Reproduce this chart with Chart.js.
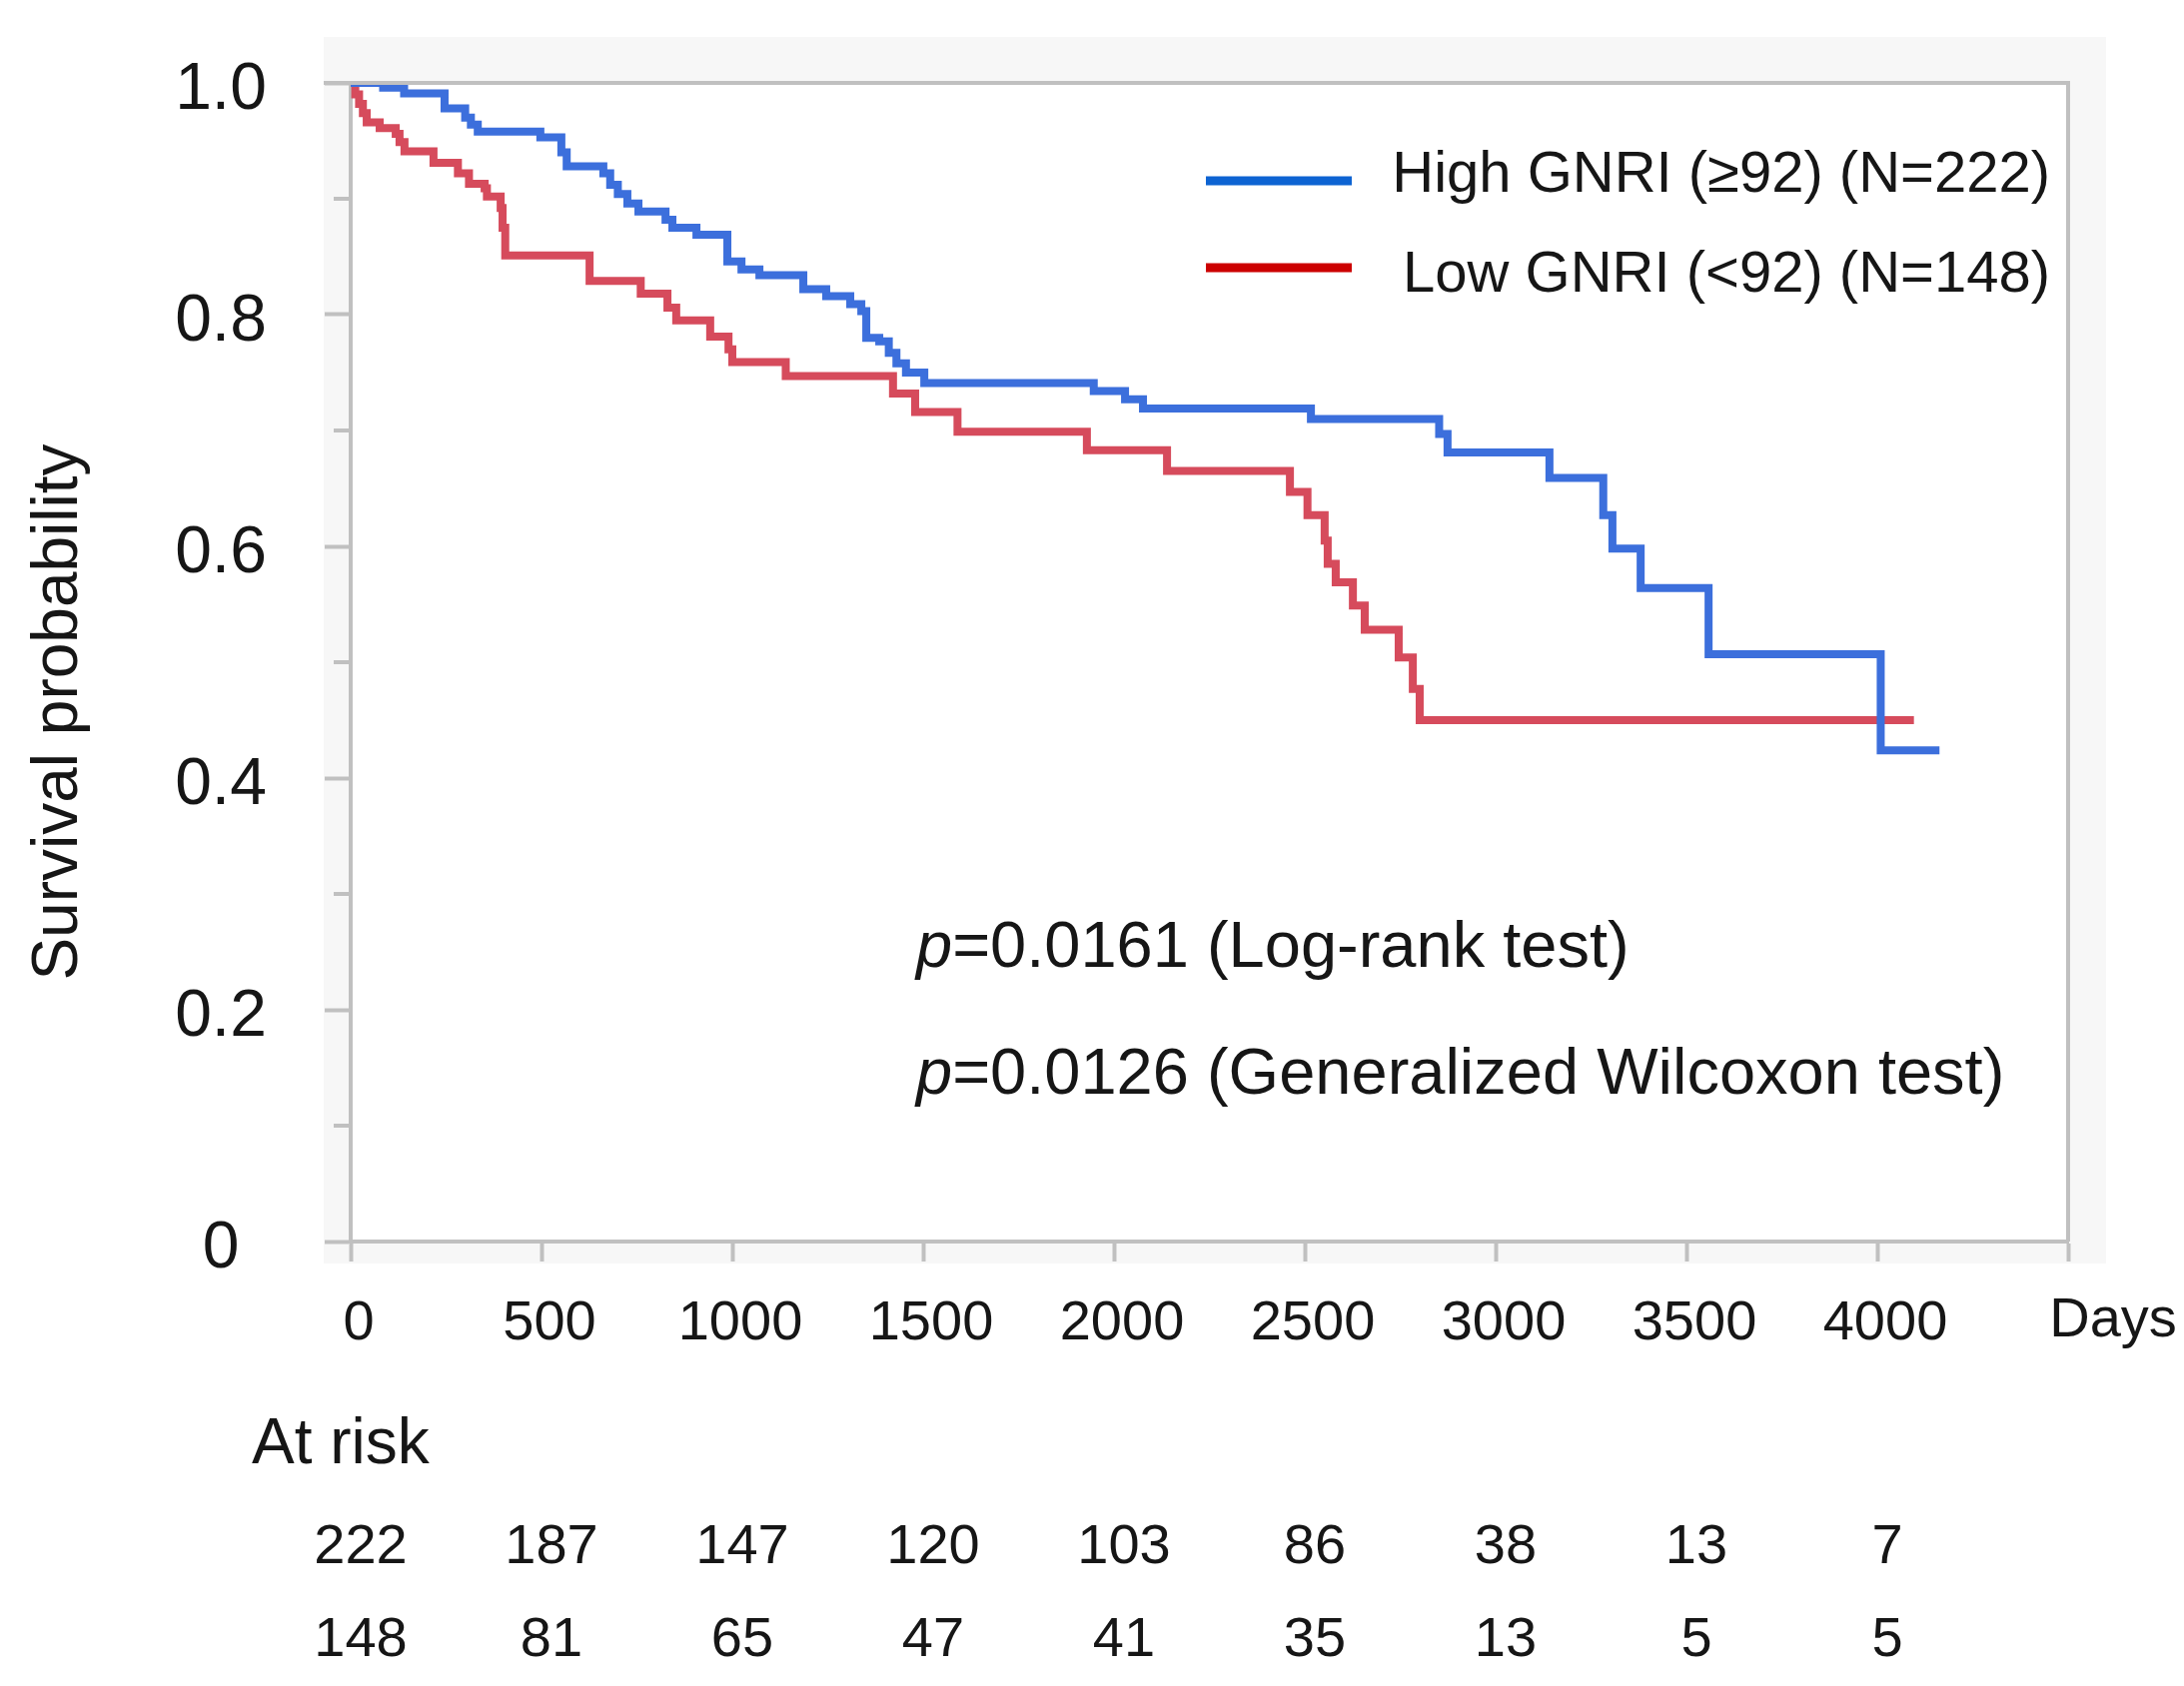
<!DOCTYPE html>
<html>
<head>
<meta charset="utf-8">
<script src="https://cdn.jsdelivr.net/npm/chart.js@4/dist/chart.umd.min.js"></script>
<style>
  html, body { margin: 0; padding: 0; background: #fff; }
  canvas { display: block; }
</style>
</head>
<body>
<canvas id="km" width="2186" height="1688"></canvas>
<script>
const FONT = '"Liberation Sans", Arial, sans-serif';
const AXIS = '#c0c0c0';
const INK = '#161616';

// Kaplan-Meier steps: [days], [survival]
const highDays = [0, 85, 140, 246, 300, 315, 333, 497, 552, 566, 662, 680, 700, 725, 754, 825, 843, 906, 987,
    1024, 1071, 1186, 1246, 1309, 1338, 1351, 1385, 1410, 1430, 1455, 1503, 1947, 2029, 2076, 2516, 2852, 2874,
    3141, 3282, 3306, 3380, 3558, 4009, 4163];
const highSurv = [1.000, 0.996, 0.991, 0.978, 0.970, 0.964, 0.958, 0.953, 0.940, 0.928, 0.922, 0.912, 0.904, 0.896, 0.889, 0.882, 0.875, 0.869, 0.846,
    0.839, 0.834, 0.822, 0.816, 0.809, 0.803, 0.780, 0.777, 0.767, 0.758, 0.750, 0.741, 0.734, 0.727, 0.719, 0.710, 0.697, 0.681,
    0.659, 0.627, 0.598, 0.564, 0.507, 0.424, 0.424];

const lowDays = [0, 12, 22, 32, 42, 76, 118, 128, 141, 217, 281, 310, 351, 357, 393, 398, 405, 626, 760, 830, 853, 942,
    990, 1000, 1140, 1421, 1479, 1590, 1929, 2139, 2461, 2507, 2552, 2560, 2581, 2626, 2657, 2746, 2783, 2801, 4096];
const lowSurv = [1.000, 0.990, 0.982, 0.974, 0.966, 0.961, 0.956, 0.949, 0.941, 0.931, 0.922, 0.913, 0.909, 0.902, 0.892, 0.875, 0.851, 0.829, 0.818, 0.806, 0.795, 0.781,
    0.770, 0.759, 0.747, 0.732, 0.716, 0.699, 0.683, 0.665, 0.647, 0.627, 0.605, 0.585, 0.569, 0.549, 0.528, 0.504, 0.477, 0.450, 0.450];

// numbers at risk
const riskDays = [0, 500, 1000, 1500, 2000, 2500, 3000, 3500, 4000];
const highRisk = [222, 187, 147, 120, 103, 86, 38, 13, 7];
const lowRisk = [148, 81, 65, 47, 41, 35, 13, 5, 5];

const seriesLabels = ['High GNRI (\u226592) (N=222)', 'Low GNRI (<92) (N=148)'];
const pValues = ['=0.0161 (Log-rank test)', '=0.0126 (Generalized Wilcoxon test)'];

const toPoints = (xs, ys) => xs.map((x, i) => ({ x: x, y: ys[i] }));

// y labels only on every second tick: 0, 0.2 ... 1.0
const yLabel = (v) => {
    const r = Math.round(v * 10);
    if (r % 2) return '';
    return r === 0 ? '0' : (r / 10).toFixed(1);
};

const drawText = (ctx, s, x, y, size, align, italic, baseline) => {
    ctx.font = (italic ? 'italic ' : '') + size + 'px ' + FONT;
    ctx.textAlign = align || 'left';
    ctx.textBaseline = baseline || 'alphabetic';
    ctx.fillStyle = INK;
    ctx.fillText(s, x, y);
    return ctx.measureText(s).width;
};

const hLine = (ctx, x1, x2, y, color, w) => {
    ctx.beginPath();
    ctx.strokeStyle = color;
    ctx.lineWidth = w;
    ctx.moveTo(x1, y);
    ctx.lineTo(x2, y);
    ctx.stroke();
};

const kmDecor = {
    id: 'kmDecor',
    beforeDraw(chart) {
        const { ctx, chartArea: a } = chart;
        ctx.save();
        ctx.fillStyle = '#f7f7f7';
        ctx.fillRect(324, 37, 2108 - 324, 1265 - 37);
        ctx.fillStyle = '#ffffff';
        ctx.fillRect(a.left, a.top, a.right - a.left, a.bottom - a.top);
        ctx.restore();
    },
    afterDraw(chart) {
        const { ctx, chartArea: a, scales } = chart;
        const xs = scales.x, ys = scales.y;
        ctx.save();

        // top and right frame
        hLine(ctx, 324, a.right + 2, a.top, AXIS, 4);
        ctx.beginPath();
        ctx.moveTo(a.right, a.top);
        ctx.lineTo(a.right, a.bottom);
        ctx.stroke();

        // short minor ticks on the y axis
        for (let i = 1; i < 10; i += 2) {
            const y = ys.getPixelForValue(i / 10);
            hLine(ctx, a.left - 17, a.left, y, AXIS, 4);
        }

        // y tick labels, sitting a little below their ticks as in the original
        ys.ticks.forEach((t) => {
            const s = yLabel(t.value);
            if (s) drawText(ctx, s, 221, ys.getPixelForValue(t.value) + 8, 66, 'center', false, 'middle');
        });

        // legend
        ctx.lineCap = 'butt';
        hLine(ctx, 1207, 1353, 181, '#0d63d2', 9);
        hLine(ctx, 1207, 1353, 268, '#cc0000', 9);
        drawText(ctx, seriesLabels[0], 2052, 192, 58, 'right');
        drawText(ctx, seriesLabels[1], 2052, 292, 58, 'right');

        // p values
        [968, 1095].forEach((base, i) => {
            const w = drawText(ctx, 'p', 917, base, 65, 'left', true);
            drawText(ctx, pValues[i], 917 + w, base, 65, 'left');
        });

        // x axis unit
        drawText(ctx, 'Days', 2115, 1338, 56, 'center');

        // y axis title
        ctx.save();
        ctx.translate(77, 713);
        ctx.rotate(-Math.PI / 2);
        drawText(ctx, 'Survival probability', 0, 0, 64, 'center');
        ctx.restore();

        // at risk table
        drawText(ctx, 'At risk', 252, 1465, 64, 'left');
        riskDays.forEach((d, i) => {
            const x = xs.getPixelForValue(d) + 10;
            drawText(ctx, String(highRisk[i]), x, 1565, 56, 'center');
            drawText(ctx, String(lowRisk[i]), x, 1658, 56, 'center');
        });

        ctx.restore();
    }
};

const ctx = document.getElementById('km').getContext('2d');
const chart = new Chart(ctx, {
    type: 'line',
    data: {
        datasets: [{
            label: seriesLabels[0],
            data: toPoints(highDays, highSurv),
            borderColor: '#3c6fdc',
            borderWidth: 8,
            stepped: 'before',
            pointRadius: 0,
            fill: false
        }, {
            label: seriesLabels[1],
            data: toPoints(lowDays, lowSurv),
            borderColor: '#d64b5c',
            borderWidth: 8,
            stepped: 'before',
            pointRadius: 0,
            fill: false
        }]
    },
    options: {
        responsive: false,
        animation: false,
        devicePixelRatio: 1,
        layout: { padding: { left: 0, top: 83, right: 116, bottom: 0 } },
        plugins: {
            legend: { display: false },
            tooltip: { enabled: false }
        },
        scales: {
            x: {
                type: 'linear',
                min: 0,
                max: 4500,
                afterFit: (scale) => { scale.height = 445; },
                ticks: {
                    stepSize: 500,
                    autoSkip: false,
                    maxRotation: 0,
                    padding: 29,
                    labelOffset: 8,
                    color: INK,
                    font: { family: FONT, size: 56 },
                    callback: (v) => (v >= 4500 ? '' : String(v))
                },
                grid: { drawOnChartArea: false, tickLength: 20, tickWidth: 4, tickColor: AXIS },
                border: { color: AXIS, width: 4 }
            },
            y: {
                min: 0,
                max: 1,
                afterFit: (scale) => {
                    scale.width = 351;
                    scale.paddingTop = 0;
                    scale.paddingBottom = 0;
                },
                ticks: {
                    display: false,
                    stepSize: 0.1,
                    callback: yLabel
                },
                grid: {
                    drawOnChartArea: false,
                    tickLength: 26,
                    tickWidth: 4,
                    tickColor: (c) => (Math.round(c.tick.value * 10) % 2 ? 'rgba(0,0,0,0)' : AXIS)
                },
                border: { color: AXIS, width: 4 }
            }
        }
    },
    plugins: [kmDecor]
});
</script>
</body>
</html>
